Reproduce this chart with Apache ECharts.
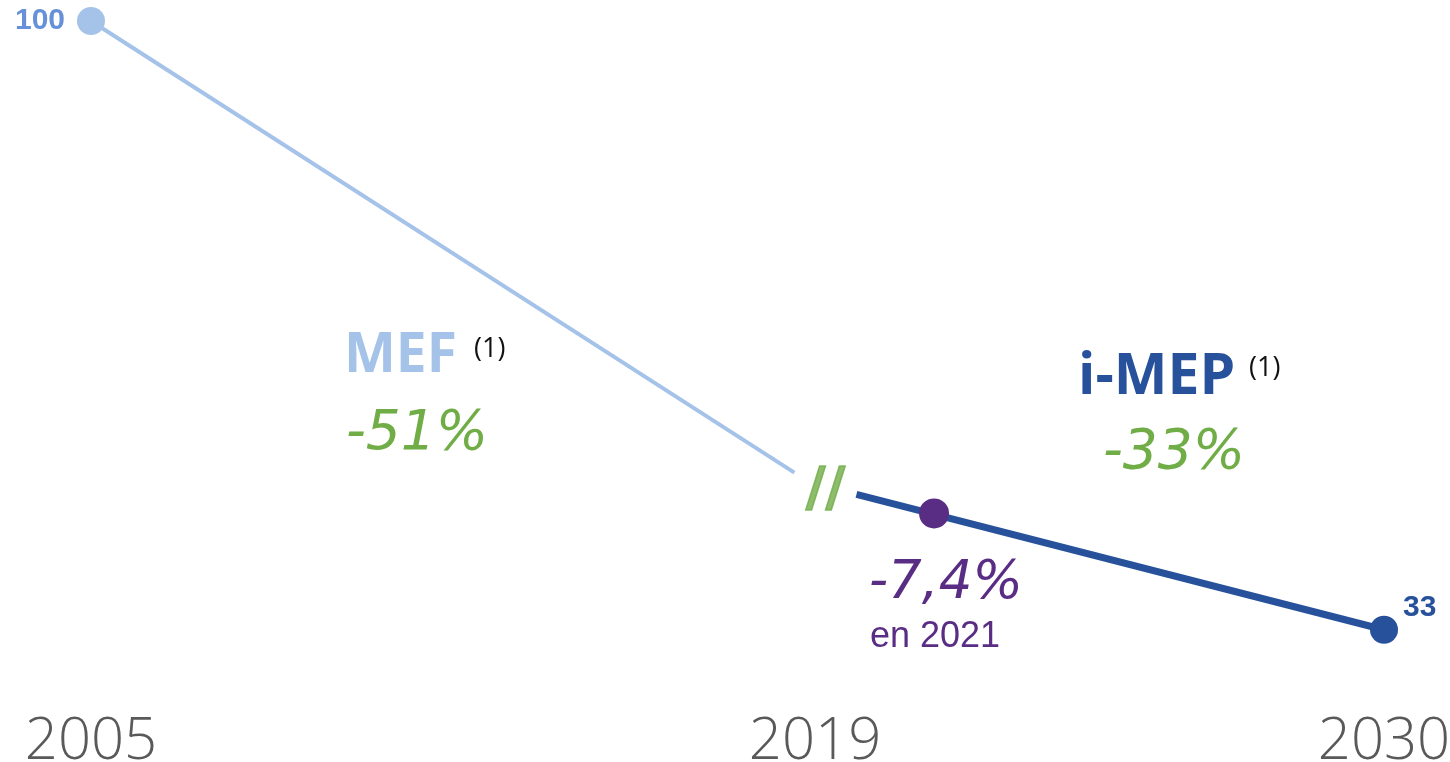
<!DOCTYPE html>
<html><head><meta charset="utf-8">
<script src="https://cdn.jsdelivr.net/npm/echarts@6/dist/echarts.min.js"></script>
<style>html,body{margin:0;padding:0;background:#fff;}#c{width:1450px;height:762px;}</style>
</head><body><div id="c"></div>
<script>
// Data
const tickYears = [2005, 2019, 2030];
const mefYears = [2005, 2018.6];
const mefValues = [100, 50.3];
const imepYears = [2019.8, 2030];
const imepValues = [47.9, 33];
const point2021 = [2021.3, 45.8];
const breakPoint = [2019.2, 48.3];
const startLabel = '100';
const endLabel = '33';

const LIGHT = '#A5C3E9', DARK = '#27529B', PURPLE = '#5A2D85', GREEN = '#70AD47';
const chart = echarts.init(document.getElementById('c'));
chart.setOption({
  animation: false,
  grid: {left: 91, right: 66, top: 21, bottom: 105, outerBoundsMode: 'none', containLabel: false},
  xAxis: {
    type: 'value', min: 2005, max: 2030,
    axisLine: {show: false}, axisTick: {show: false}, splitLine: {show: false},
    axisLabel: {
      customValues: tickYears, showMinLabel: true, showMaxLabel: true, hideOverlap: false,
      formatter: v => String(v), fontSize: 58, fontFamily: 'Open Sans', fontWeight: 300,
      color: '#595959', margin: 56, lineHeight: 58
    }
  },
  yAxis: {type: 'value', min: 30, max: 100, show: false},
  series: [
    {type: 'line', data: mefYears.map((y, i) => [y, mefValues[i]]), showSymbol: false,
     lineStyle: {color: LIGHT, width: 4}, z: 2},
    {type: 'scatter', data: [[mefYears[0], mefValues[0]]], symbolSize: 28,
     itemStyle: {color: LIGHT, opacity: 1}, z: 3,
     label: {show: true, position: 'left', distance: 12, formatter: startLabel,
       fontFamily: 'Liberation Sans', fontWeight: 'bold', fontSize: 30, color: '#6690D8'}},
    {type: 'line', data: imepYears.map((y, i) => [y, imepValues[i]]), showSymbol: false,
     lineStyle: {color: DARK, width: 7}, z: 2},
    {type: 'scatter', data: [[imepYears[1], imepValues[1]]], symbolSize: 28,
     itemStyle: {color: DARK, opacity: 1}, z: 3,
     label: {show: true, position: [33, -23], formatter: endLabel,
       fontFamily: 'Liberation Sans', fontWeight: 'bold', fontSize: 30, color: DARK}},
    {type: 'scatter', data: [point2021], symbolSize: 30, itemStyle: {color: PURPLE, opacity: 1}, z: 4},
    {type: 'scatter', data: [breakPoint], symbolSize: 1, itemStyle: {color: 'rgba(0,0,0,0)'}, z: 4,
     label: {show: true, position: 'inside', formatter: '//', fontFamily: 'DejaVu Sans',
       fontWeight: 'bold', fontSize: 54, color: GREEN, textBorderColor: GREEN, textBorderWidth: 1.5}}
  ],
  graphic: [
    {type: 'text', left: 344, top: 329, style: {text: 'MEF', font: 'bold 55px "Open Sans"', fill: LIGHT}},
    {type: 'text', left: 474, top: 336, style: {text: '(1)', font: '27px "Open Sans"', fill: '#111'}},
    {type: 'text', left: 346, top: 407, style: {text: '-51%', font: 'italic 55px "DejaVu Sans"', fill: GREEN}},
    {type: 'text', left: 1078, top: 349, style: {text: 'i-MEP', font: 'bold 57px "Open Sans"', fill: DARK}},
    {type: 'text', left: 1249, top: 355, style: {text: '(1)', font: '27px "Open Sans"', fill: '#111'}},
    {type: 'text', left: 1103, top: 426, style: {text: '-33%', font: 'italic 55px "DejaVu Sans"', fill: GREEN}},
    {type: 'text', left: 869, top: 558, style: {text: '-7,4%', font: 'italic 53px "DejaVu Sans"', fill: PURPLE}},
    {type: 'text', left: 870, top: 619, style: {text: 'en 2021', font: '36px "Liberation Sans"', fill: PURPLE}}
  ]
});
</script></body></html>
